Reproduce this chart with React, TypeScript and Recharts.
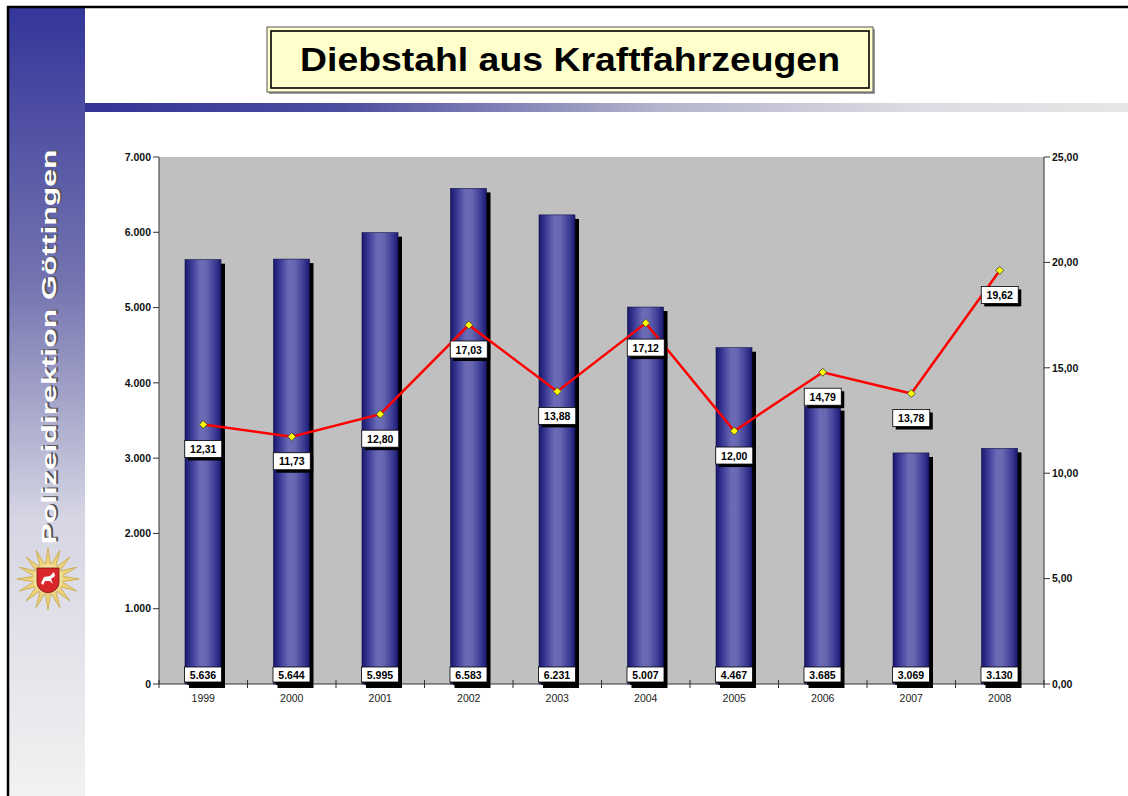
import React from 'react';
import { ComposedChart, Bar, Line, XAxis, YAxis, CartesianGrid, LabelList } from 'recharts';

const years = ['1999', '2000', '2001', '2002', '2003', '2004', '2005', '2006', '2007', '2008'];
const thefts = [5636, 5644, 5995, 6583, 6231, 5007, 4467, 3685, 3069, 3130];
const clearanceRate = [12.31, 11.73, 12.8, 17.03, 13.88, 17.12, 12.0, 14.79, 13.78, 19.62];
const leftTicks = [0, 1000, 2000, 3000, 4000, 5000, 6000, 7000];
const rightTicks = [0, 5, 10, 15, 20, 25];

const data = years.map((year, i) => ({ year, thefts: thefts[i], rate: clearanceRate[i] }));

const FONT = '"Liberation Sans", Arial, Helvetica, sans-serif';
const PLOT_WIDTH = 885;

// 5636 -> "5.636"
function fmtThousands(v: number): string {
  return String(Math.round(v)).replace(/\B(?=(\d{3})+(?!\d))/g, '.');
}

function fmtComma(v: number): string {
  return v.toFixed(2).replace('.', ',');
}

const BarShape = (props: any) => {
  const { x, y, width, height, index } = props;
  const id = `barGrad${index}`;
  return (
    <g>
      <defs>
        <linearGradient id={id} x1="0" y1="0" x2="1" y2="0">
          <stop offset="0%" stopColor="#18186c" />
          <stop offset="18%" stopColor="#3a3a96" />
          <stop offset="42%" stopColor="#6a6ab6" />
          <stop offset="58%" stopColor="#6868b2" />
          <stop offset="85%" stopColor="#3a3a94" />
          <stop offset="100%" stopColor="#1a1a70" />
        </linearGradient>
      </defs>
      <rect x={x + 4} y={y + 4} width={width} height={height} fill="#000" />
      <rect x={x} y={y} width={width} height={height} fill={`url(#${id})`} stroke="#10104a" strokeWidth={0.6} />
    </g>
  );
};

const BarValueLabel = (props: any) => {
  const vb = props.viewBox || props;
  const { x, y, width = 0, height = 0 } = vb;
  const cx = x + width / 2;
  const bottom = y + height;
  const w = 37;
  const h = 15;
  const top = bottom - h - 2;
  return (
    <g>
      <rect x={cx - w / 2 + 3} y={top + 3} width={w} height={h} fill="#000" />
      <rect x={cx - w / 2} y={top} width={w} height={h} fill="#fff" stroke="#000" strokeWidth={0.8} />
      <text x={cx} y={top + 11.5} textAnchor="middle" fontSize={10.5} fontWeight="bold" fontFamily={FONT} fill="#000">
        {fmtThousands(props.value)}
      </text>
    </g>
  );
};

const RateLabel = (props: any) => {
  const vb = props.viewBox || props;
  const x = vb.x ?? props.x;
  const y = vb.y ?? props.y;
  const w = 37;
  const h = 17;
  const top = y + 16;
  return (
    <g>
      <rect x={x - w / 2 + 3} y={top + 3} width={w} height={h} fill="#000" />
      <rect x={x - w / 2} y={top} width={w} height={h} fill="#fff" stroke="#000" strokeWidth={0.8} />
      <text x={x} y={top + 12.5} textAnchor="middle" fontSize={10.5} fontWeight="bold" fontFamily={FONT} fill="#000">
        {fmtComma(props.value)}
      </text>
    </g>
  );
};

const Diamond = (props: any) => {
  const { cx, cy, index } = props;
  const r = 4;
  return (
    <polygon
      key={`d${index}`}
      points={`${cx},${cy - r} ${cx + r},${cy} ${cx},${cy + r} ${cx - r},${cy}`}
      fill="#ffff00"
      stroke="#333"
      strokeWidth={0.8}
    />
  );
};

const YearTick = (props: any) => {
  const { x, y, payload, index } = props;
  const half = PLOT_WIDTH / years.length / 2;
  return (
    <g>
      {index === 0 && <line x1={x - half} x2={x - half} y1={y - 4} y2={y + 4} stroke="#333" />}
      <line x1={x + half} x2={x + half} y1={y - 4} y2={y + 4} stroke="#333" />
      <text x={x} y={y + 18} textAnchor="middle" fontSize={10.5} fontFamily={FONT} fill="#222">
        {payload.value}
      </text>
    </g>
  );
};

const PoliceStar = ({ cx, cy }: { cx: number; cy: number }) => {
  const pts: string[] = [];
  const n = 16;
  for (let i = 0; i < n * 2; i++) {
    const r = i % 2 === 0 ? 31 : 14;
    const a = (Math.PI * i) / n - Math.PI / 2;
    pts.push(`${cx + r * Math.cos(a)},${cy + r * Math.sin(a)}`);
  }
  return (
    <g>
      <polygon points={pts.join(' ')} fill="#ecd27a" stroke="#c9a640" strokeWidth={0.8} />
      <circle cx={cx} cy={cy} r={15} fill="#f3e09a" />
      <path
        d={`M${cx - 11},${cy - 11} L${cx + 11},${cy - 11} L${cx + 11},${cy + 3} Q${cx + 11},${cy + 12} ${cx},${cy + 14} Q${cx - 11},${cy + 12} ${cx - 11},${cy + 3} Z`}
        fill="#d8262a"
        stroke="#7a1010"
        strokeWidth={0.8}
      />
      <path
        d={`M${cx - 7},${cy + 4} L${cx - 4},${cy - 2} L${cx + 2},${cy - 3} L${cx + 6},${cy - 7} L${cx + 7},${cy - 3} L${cx + 3},${cy} L${cx + 5},${cy + 5} L${cx + 2},${cy + 2} L${cx - 3},${cy + 2} L${cx - 5},${cy + 6} Z`}
        fill="#fff"
      />
    </g>
  );
};

const Decorations = () => (
  <svg width={1128} height={796} style={{ position: 'absolute', left: 0, top: 0 }}>
    <defs>
      <linearGradient id="sideGrad" x1="0" y1="0" x2="0" y2="1">
        <stop offset="0%" stopColor="#34369a" />
        <stop offset="35%" stopColor="#7474b0" />
        <stop offset="65%" stopColor="#d6d6e4" />
        <stop offset="100%" stopColor="#f2f2f2" />
      </linearGradient>
      <linearGradient id="stripGrad" x1="0" y1="0" x2="1" y2="0">
        <stop offset="0%" stopColor="#323496" />
        <stop offset="25%" stopColor="#4c4ea0" />
        <stop offset="55%" stopColor="#b4b4cc" />
        <stop offset="80%" stopColor="#dcdce4" />
        <stop offset="100%" stopColor="#e6e6e6" />
      </linearGradient>
    </defs>
    <rect x={0} y={0} width={1128} height={796} fill="#fff" />
    <rect x={9} y={8} width={76} height={788} fill="url(#sideGrad)" />
    <line x1={8} y1={6} x2={8} y2={796} stroke="#000" strokeWidth={2.5} />
    <line x1={7} y1={7} x2={1128} y2={7} stroke="#000" strokeWidth={2.5} />
    <rect x={85} y={103} width={1043} height={9} fill="url(#stripGrad)" />
    <text
      transform="translate(57,347) rotate(-90)"
      textAnchor="middle"
      fontFamily={FONT}
      fontWeight="bold"
      fontSize={20}
      textLength={395}
      lengthAdjust="spacingAndGlyphs"
      fill="#555"
      x={1}
      y={1}
    >
      Polizeidirektion Göttingen
    </text>
    <text
      transform="translate(56,347) rotate(-90)"
      textAnchor="middle"
      fontFamily={FONT}
      fontWeight="bold"
      fontSize={20}
      textLength={395}
      lengthAdjust="spacingAndGlyphs"
      fill="#fff"
    >
      Polizeidirektion Göttingen
    </text>
    <PoliceStar cx={48} cy={579} />
    <rect x={269} y={29} width={606} height={65} fill="#999" />
    <rect x={267} y={27} width={606} height={65} fill="#ffffcc" stroke="#555" strokeWidth={1} />
    <rect x={271} y={31} width={598} height={57} fill="#ffffcc" stroke="#000" strokeWidth={1.6} />
    <text
      x={570}
      y={71}
      textAnchor="middle"
      fontFamily={FONT}
      fontWeight="bold"
      fontSize={34}
      textLength={540}
      lengthAdjust="spacingAndGlyphs"
      fill="#000"
    >
      Diebstahl aus Kraftfahrzeugen
    </text>
  </svg>
);

export default function App() {
  return (
    <div style={{ position: 'absolute', left: 0, top: 0, width: 1128, height: 796, background: '#fff', fontFamily: FONT }}>
      <Decorations />
      <div style={{ position: 'absolute', left: 0, top: 0 }}>
        <ComposedChart
          width={1128}
          height={796}
          data={data}
          margin={{ top: 157, right: 0, bottom: 82, left: 99 }}
        >
          <CartesianGrid horizontal={false} vertical={false} fill="#c0c0c0" />
          <XAxis
            dataKey="year"
            height={30}
            tickLine={false}
            tickSize={0}
            tickMargin={0}
            stroke="#333"
            tick={<YearTick />}
            interval={0}
          />
          <YAxis
            yAxisId="left"
            width={60}
            domain={[0, 7000]}
            ticks={leftTicks}
            tickFormatter={fmtThousands}
            stroke="#333"
            tick={{ fontSize: 10.5, fontWeight: 'bold', fill: '#111', fontFamily: FONT }}
          />
          <YAxis
            yAxisId="right"
            orientation="right"
            width={84}
            domain={[0, 25]}
            ticks={rightTicks}
            tickFormatter={fmtComma}
            stroke="#333"
            tick={{ fontSize: 10.5, fontWeight: 'bold', fill: '#111', fontFamily: FONT, textAnchor: 'start' }}
          />
          <Bar yAxisId="left" dataKey="thefts" barSize={36} shape={<BarShape />} isAnimationActive={false}>
            <LabelList dataKey="thefts" content={<BarValueLabel />} />
          </Bar>
          <Line
            yAxisId="right"
            dataKey="rate"
            type="linear"
            stroke="#ff0000"
            strokeWidth={2.5}
            dot={(p: any) => <Diamond key={`dot${p.index}`} {...p} />}
            activeDot={false}
            isAnimationActive={false}
          >
            <LabelList dataKey="rate" content={<RateLabel />} />
          </Line>
        </ComposedChart>
      </div>
    </div>
  );
}
